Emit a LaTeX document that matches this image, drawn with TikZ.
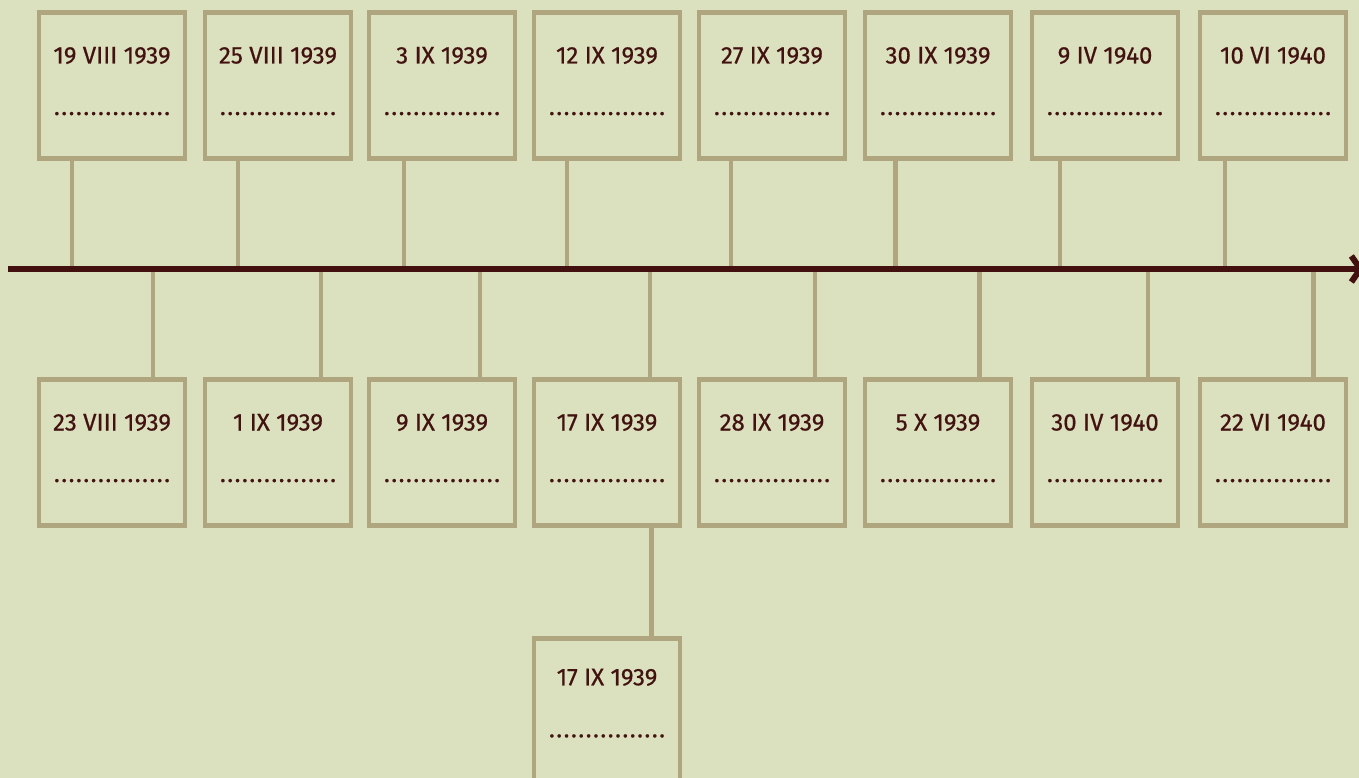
\documentclass[tikz,border=0pt]{standalone}
\usepackage{fontspec}
\usetikzlibrary{arrows.meta}
\newfontfamily\datefont{Fira Sans}[FakeBold=0.6]
\definecolor{bgc}{RGB}{219,224,190}
\definecolor{boxc}{RGB}{175,165,127}
\definecolor{axisc}{RGB}{66,16,14}
\definecolor{txtc}{RGB}{66,18,16}
\newcommand\dotrow{\hbox to 116pt{.\hfill.\hfill.\hfill.\hfill.\hfill.\hfill.\hfill.\hfill.\hfill.\hfill.\hfill.\hfill.\hfill.\hfill.\hfill.}}
\tikzset{
  datebox/.style={rectangle, draw=boxc, fill=bgc, line width=4.7pt, minimum width=146pt, minimum height=146pt, inner sep=0pt, outer sep=0pt},
  link/.style={draw=boxc, line width=4.6pt},
  datelbl/.style={anchor=base, text=txtc, font=\datefont\fontsize{24}{24}\selectfont, inner sep=0pt},
  dotlbl/.style={anchor=base, text=txtc, font=\datefont\fontsize{24}{24}\selectfont, inner sep=0pt},
  axisline/.style={draw=axisc, line width=6pt, -{Straight Barb[length=9pt,width=26pt]}}
}
\begin{document}
\begin{tikzpicture}[x=1pt,y=-1pt]
\fill[bgc] (0,0) rectangle (1359,778);
\useasboundingbox (0,0) rectangle (1359,778);
% axis coordinates
\coordinate (a0) at (8,269);
\coordinate (a1) at (1364,269);
% top attachment points
\coordinate (t1) at (72,269);
\coordinate (t2) at (238,269);
\coordinate (t3) at (404,269);
\coordinate (t4) at (567,269);
\coordinate (t5) at (731,269);
\coordinate (t6) at (895.5,269);
\coordinate (t7) at (1060,269);
\coordinate (t8) at (1225,269);
% bottom attachment points
\coordinate (u1) at (153,269);
\coordinate (u2) at (321,269);
\coordinate (u3) at (480,269);
\coordinate (u4) at (650,269);
\coordinate (u5) at (815,269);
\coordinate (u6) at (979.5,269);
\coordinate (u7) at (1148,269);
\coordinate (u8) at (1313.5,269);
% boxes (positions)
\path
  (112,85.5)  node[datebox] (b1) {}
  (278,85.5)  node[datebox] (b2) {}
  (442,85.5)  node[datebox] (b3) {}
  (607,85.5)  node[datebox] (b4) {}
  (772,85.5)  node[datebox] (b5) {}
  (938,85.5)  node[datebox] (b6) {}
  (1105,85.5) node[datebox] (b7) {}
  (1273,85.5) node[datebox] (b8) {}
  (112,452.5)  node[datebox] (c1) {}
  (278,452.5)  node[datebox] (c2) {}
  (442,452.5)  node[datebox] (c3) {}
  (607,452.5)  node[datebox] (c4) {}
  (772,452.5)  node[datebox] (c5) {}
  (938,452.5)  node[datebox] (c6) {}
  (1105,452.5) node[datebox] (c7) {}
  (1273,452.5) node[datebox] (c8) {}
  (607,711.3)  node[datebox] (d1) {};
% connectors
\foreach \i in {1,...,8} {
  \draw[link] (t\i) -- (t\i |- b\i.south);
  \draw[link] (u\i) -- (u\i |- c\i.north);
}
\draw[link] (c4.south -| 651.5,0) -- (d1.north -| 651.5,0);
% axis
\draw[axisline] (a0) -- (a1);
% redraw boxes on top
\foreach \n in {b1,b2,b3,b4,b5,b6,b7,b8,c1,c2,c3,c4,c5,c6,c7,c8,d1} {
  \path (\n.center) node[datebox] {};
}
% labels
\foreach \n/\t in {b1/19 VIII 1939, b2/25 VIII 1939, b3/3 IX 1939, b4/12 IX 1939, b5/27 IX 1939, b6/30 IX 1939, b7/9 IV 1940, b8/10 VI 1940,
                   c1/23 VIII 1939, c2/1 IX 1939, c3/9 IX 1939, c4/17 IX 1939, c5/28 IX 1939, c6/5 X 1939, c7/30 IV 1940, c8/22 VI 1940} {
  \node[datelbl] (\n t) at ([yshift=-51pt]\n.north) {\t};
  \node[dotlbl] (\n d) at ([yshift=-102.5pt]\n.north) {\dotrow};
}
\node[datelbl] (d1t) at ([yshift=-47pt]d1.north) {17 IX 1939};
\node[dotlbl] (d1d) at ([yshift=-99pt]d1.north) {\dotrow};
\end{tikzpicture}
\end{document}
